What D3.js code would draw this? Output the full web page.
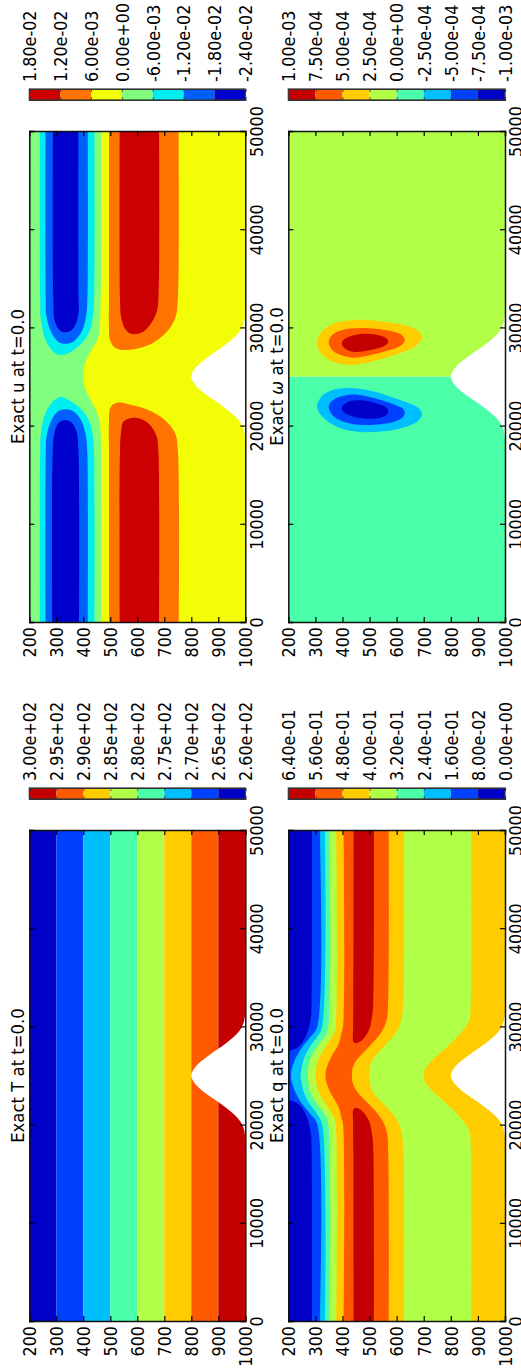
<!DOCTYPE html>
<html>
<head>
<meta charset="utf-8">
<script src="https://cdn.jsdelivr.net/npm/d3@7"></script>
<style>
  body { margin: 0; background: #fff; }
  text { font-family: "DejaVu Sans", sans-serif; fill: #000; }
</style>
</head>
<body>
<svg width="521" height="1369"></svg>
<script>
const pressureTicks = [200, 300, 400, 500, 600, 700, 800, 900, 1000]
const distanceTicks = [0, 10000, 20000, 30000, 40000, 50000]

// colorbar labels, in page order
const uLabels = ["1.80e-02", "1.20e-02", "6.00e-03", "0.00e+00", "-6.00e-03", "-1.20e-02", "-1.80e-02", "-2.40e-02"]
const omegaLabels = ["1.00e-03", "7.50e-04", "5.00e-04", "2.50e-04", "0.00e+00", "-2.50e-04", "-5.00e-04", "-7.50e-04", "-1.00e-03"]
const tLabels = ["3.00e+02", "2.95e+02", "2.90e+02", "2.85e+02", "2.80e+02", "2.75e+02", "2.70e+02", "2.65e+02", "2.60e+02"]
const qLabels = ["6.40e-01", "5.60e-01", "4.80e-01", "4.00e-01", "3.20e-01", "2.40e-01", "1.60e-01", "8.00e-02", "0.00e+00"]

const jet7 = ["#cc0000", "#ff7300", "#f2fd06", "#80ff7f", "#00eef0", "#0060ff", "#0000cc"]
const jet8 = ["#c40000", "#ff5a00", "#ffcc00", "#b2ff47", "#4bffaa", "#00bfff", "#0040ff", "#0000c6"]

// all contour points below are [distance, pressure]
// half profiles run from the right edge in to the middle of the hill
const terrainHalf = [[33000, 1010], [31300, 1000], [30300, 993], [29400, 974], [28200, 925], [27250, 875], [26200, 826], [25500, 806], [25000, 800]]

const tBoundaries = [200, 300, 400, 500, 600, 700, 800, 900, 1000]

const uGreenEdge = [[-5000, 466], [17000, 466], [19210, 464], [20910, 456], [22440, 431], [23800, 406], [25050, 400], [26340, 406], [27700, 431], [29060, 456], [30750, 462], [32790, 464], [35000, 466], [55000, 466]]
const uCyanRight = [[60000, 240], [32790, 240], [30750, 243], [28720, 260], [27530, 289], [27190, 314], [27360, 344], [28380, 394], [29740, 425], [31430, 437], [32790, 440], [60000, 440]]
const uBlueRight = [[60000, 261], [32790, 261], [31090, 264], [29400, 283], [28550, 307], [28340, 332], [28550, 363], [29570, 394], [31090, 410], [32790, 415], [60000, 415]]
const uDarkRight = [[60000, 289], [32790, 289], [30580, 295], [29670, 314], [29500, 332], [29735, 357], [30580, 375], [31770, 383], [33500, 382], [60000, 382]]
const uCyanLeft = [[-10000, 240], [17210, 240], [19250, 243], [21280, 260], [22470, 289], [22900, 314], [22640, 344], [21620, 394], [20260, 425], [18570, 437], [17210, 440], [-10000, 440]]
const uBlueLeft = [[-10000, 261], [17210, 261], [18910, 264], [20600, 283], [21450, 307], [21660, 332], [21450, 363], [20430, 394], [18910, 410], [17210, 415], [-10000, 415]]
const uDarkLeft = [[-10000, 287], [17520, 287], [19210, 293], [20230, 307], [20570, 332], [20300, 357], [19380, 375], [17520, 382], [-10000, 382]]
const uOrangeRight = [[60000, 495], [32790, 495], [30075, 495], [28720, 499], [27940, 517], [27700, 554], [27870, 604], [28550, 665], [29735, 715], [31090, 742], [32790, 750], [60000, 750]]
const uRedRight = [[60000, 536], [32790, 536], [31090, 540], [29900, 554], [29330, 579], [29470, 616], [30250, 647], [31600, 672], [32790, 678], [60000, 678]]
const uOrangeLeft = [[-10000, 495], [17520, 495], [20230, 495], [21930, 502], [22340, 530], [22100, 579], [21590, 641], [20570, 702], [19210, 740], [17520, 750], [-10000, 750]]
const uRedLeft = [[-10000, 536], [17520, 536], [19380, 540], [20400, 548], [20775, 579], [20640, 616], [20060, 647], [18875, 672], [17520, 678], [-10000, 678]]

const omegaSkyRing = [[21930, 306], [22950, 322], [23560, 356], [23830, 418], [23630, 492], [22950, 578], [22200, 652], [21760, 682], [21180, 694], [20540, 682], [20060, 652], [19640, 602], [19400, 541], [19350, 467], [19720, 393], [20740, 332]]
const omegaBlueRing = [[21930, 349], [22680, 369], [23050, 405], [23150, 455], [22710, 529], [22030, 602], [21760, 621], [21320, 630], [20810, 621], [20400, 590], [20180, 553], [20060, 479], [20300, 418], [20910, 369]]
const omegaDarkRing = [[21760, 397], [22340, 415], [22570, 455], [22440, 504], [22060, 547], [21820, 563], [21420, 569], [21000, 559], [20780, 535], [20710, 492], [20910, 442], [21250, 409]]
const omegaYellowRing = [[28380, 306], [29400, 319], [30245, 356], [30690, 418], [30750, 492], [30480, 578], [30050, 652], [29600, 682], [28955, 695], [28380, 682], [27870, 658], [27400, 615], [26950, 565], [26410, 492], [26200, 418], [26610, 356], [27430, 319]]
const omegaOrangeRing = [[28550, 349], [29230, 362], [29735, 399], [29940, 467], [29800, 541], [29450, 602], [29180, 621], [28720, 630], [28280, 621], [27870, 596], [27630, 565], [27190, 504], [26920, 442], [27190, 393], [27700, 362]]
const omegaRedRing = [[28380, 397], [28890, 412], [29260, 449], [29330, 504], [29100, 547], [28880, 563], [28550, 569], [28180, 559], [27900, 535], [27700, 504], [27500, 449], [27770, 412]]

const qLowEdgeHalf = [[55000, 875], [33000, 875], [32000, 873], [30650, 869], [29300, 836], [27940, 787], [26580, 732], [25560, 703], [25000, 700]]
const qYellowEdgeHalf = [[55000, 626], [33000, 625], [30650, 617], [29300, 596], [27940, 553], [26580, 510], [25000, 498]]
const qOrangeEdgeHalf = [[55000, 570], [33000, 569], [30650, 563], [29300, 541], [27940, 498], [26580, 452], [25700, 437], [25000, 435]]
const qRedRight = [[60000, 441], [32700, 440], [29640, 439], [28450, 440], [28280, 449], [28620, 473], [29640, 498], [31160, 510], [32700, 514], [60000, 515]]
const qTopOrangeHalf = [[55000, 402], [29975, 402], [29300, 396], [28280, 387], [26750, 356], [25560, 339], [25000, 337]]
const qTopYellowHalf = [[55000, 375], [29975, 375], [29300, 369], [27940, 338], [26750, 313], [25560, 302], [25000, 301]]
const qTealEdgeHalf = [[55000, 350], [29975, 348], [29100, 338], [27940, 307], [26750, 282], [25560, 273], [25000, 271]]
const qSkyEdgeHalf = [[55000, 332], [29975, 325], [28950, 307], [27940, 280], [26750, 258], [25560, 248], [25000, 245]]
const qBlueEdgeHalf = [[55000, 311], [29975, 307], [28950, 282], [27940, 252], [26750, 227], [25560, 212], [25000, 210]]
const qDarkRight = [[60000, 286], [32700, 286], [30650, 282], [28960, 264], [27940, 239], [27500, 201], [27300, 170], [27100, 100], [60000, 100]]

const whole = half => half.concat(half.slice(0, -1).reverse().map(d => [50000 - d[0], d[1]]))
const flipped = points => points.map(d => [50000 - d[0], d[1]])

const svg = d3.select("svg")

// the reference glyphs are a little taller than DejaVu at this length
const glyphStretch = " scale(1,1.09)"

function drawPanel(layout, titleParts, labels, colors, paintFill) {
  const xScale = d3.scaleLinear().domain([0, 50000]).range([layout.bottom, layout.top])
  const pScale = d3.scaleLinear().domain([200, 1000]).range([layout.left, layout.right])

  const g = svg.append("g")
  const clipId = "clip" + layout.id
  g.append("clipPath").attr("id", clipId).append("rect")
    .attr("x", layout.left).attr("y", layout.top)
    .attr("width", layout.right - layout.left).attr("height", layout.bottom - layout.top)
  const fill = g.append("g").attr("clip-path", "url(#" + clipId + ")")

  const curve = d3.curveCatmullRom.alpha(0.5)
  const lineGen = d3.line().x(d => pScale(d[1])).y(d => xScale(d[0])).curve(curve)
  const ringGen = d3.line().x(d => pScale(d[1])).y(d => xScale(d[0])).curve(d3.curveCatmullRomClosed.alpha(0.5))
  const areaGen = d3.area().y(d => xScale(d[0])).x0(pScale(100)).x1(d => pScale(d[1])).curve(curve)
  const terrainGen = d3.area().y(d => xScale(d[0])).x0(pScale(1100)).x1(d => pScale(d[1])).curve(curve)

  const paint = {
    // whole panel in one colour between two distances
    slab: (x0, x1, color) => fill.append("rect")
      .attr("x", layout.left).attr("width", layout.right - layout.left)
      .attr("y", xScale(x1)).attr("height", xScale(x0) - xScale(x1)).attr("fill", color),
    // band between two pressures
    band: (p0, p1, color) => fill.append("rect")
      .attr("x", pScale(p0)).attr("width", pScale(p1) - pScale(p0))
      .attr("y", layout.top).attr("height", layout.bottom - layout.top).attr("fill", color),
    area: (points, color) => fill.append("path").attr("d", areaGen(points)).attr("fill", color),
    shape: (points, color) => fill.append("path").attr("d", lineGen(points) + "Z").attr("fill", color),
    ring: (points, color) => fill.append("path").attr("d", ringGen(points)).attr("fill", color)
  }
  paintFill(paint)
  fill.append("path").attr("d", terrainGen(whole(terrainHalf))).attr("fill", "#fff")

  // ticks on all four sides point inwards, only two sides have labels
  const tickSize = -5
  const bottomAxis = g.append("g").attr("transform", "translate(0," + layout.bottom + ")")
    .call(d3.axisBottom(pScale).tickValues(pressureTicks).tickSize(tickSize).tickFormat(d3.format("d")))
  const topAxis = g.append("g").attr("transform", "translate(0," + layout.top + ")")
    .call(d3.axisTop(pScale).tickValues(pressureTicks).tickSize(tickSize).tickFormat(""))
  const leftAxis = g.append("g").attr("transform", "translate(" + layout.left + ",0)")
    .call(d3.axisLeft(xScale).tickValues(distanceTicks).tickSize(tickSize).tickFormat(""))
  const rightAxis = g.append("g").attr("transform", "translate(" + layout.right + ",0)")
    .call(d3.axisRight(xScale).tickValues(distanceTicks).tickSize(tickSize).tickFormat(d3.format("d")))
  ;[bottomAxis, topAxis, leftAxis, rightAxis].forEach(axis => {
    axis.selectAll(".domain").attr("stroke", "#111").attr("stroke-width", 1.5)
    axis.selectAll(".tick line").attr("stroke", "#000").attr("stroke-width", 1.2)
    axis.attr("font-family", null).attr("font-size", null)
  })
  bottomAxis.selectAll("text")
    .attr("x", 0).attr("y", 0).attr("dy", "0.36em")
    .attr("transform", "translate(0,5) rotate(-90)" + glyphStretch)
    .attr("text-anchor", "end").style("font-size", "16px")
  rightAxis.selectAll("text")
    .attr("x", 0).attr("y", 0).attr("dy", "0.36em")
    .attr("transform", "translate(11,0) rotate(-90)" + glyphStretch)
    .attr("text-anchor", "middle").style("font-size", "16px")

  const title = g.append("text")
    .attr("transform", "translate(" + (layout.left - 12) + "," + ((layout.top + layout.bottom) / 2) + ") rotate(-90)" + glyphStretch)
    .attr("text-anchor", "middle").attr("dy", "0.36em").style("font-size", "16.5px")
  titleParts.forEach(part => {
    title.append("tspan").style("font-style", part.italic ? "italic" : "normal").text(part.text)
  })

  // colorbar above the panel
  const barScale = d3.scalePoint().domain(labels).range([layout.left, layout.right])
  const barBottom = layout.top - 31
  const barTop = barBottom - 11
  const bar = g.append("g")
  bar.selectAll("rect").data(colors).enter().append("rect")
    .attr("x", (d, i) => barScale(labels[i]))
    .attr("width", (d, i) => barScale(labels[i + 1]) - barScale(labels[i]))
    .attr("y", barTop).attr("height", barBottom - barTop)
    .attr("fill", d => d)
  const barAxis = g.append("g").attr("transform", "translate(0," + barTop + ")")
    .call(d3.axisTop(barScale).tickSize(-3))
  const barLower = g.append("g").attr("transform", "translate(0," + barBottom + ")")
    .call(d3.axisBottom(barScale).tickSize(-3).tickFormat(""))
  ;[barAxis, barLower].forEach(axis => {
    axis.selectAll(".domain").attr("stroke", "#333").attr("stroke-width", 1.2)
    axis.selectAll(".tick line").attr("stroke", "#333").attr("stroke-width", 0.8)
    axis.attr("font-family", null).attr("font-size", null)
  })
  g.append("rect").attr("x", layout.left).attr("y", barTop)
    .attr("width", layout.right - layout.left).attr("height", barBottom - barTop)
    .attr("fill", "none").attr("stroke", "#333").attr("stroke-width", 1.2)
  barAxis.selectAll("text")
    .attr("x", 0).attr("y", 0).attr("dy", "0.36em")
    .attr("transform", "translate(0,-7) rotate(-90)" + glyphStretch)
    .attr("text-anchor", "start").style("font-size", "16px")
}

const rowTop = { top: 131, bottom: 622 }
const rowBottom = { top: 830, bottom: 1321 }
const colLeft = { left: 29.3, right: 245.3 }
const colRight = { left: 288.3, right: 505 }

drawPanel({ id: "u", ...rowTop, ...colLeft }, [{ text: "Exact u at t=0.0" }], uLabels, jet7, paint => {
  const [red, orange, yellow, green, cyan, blue, dark] = jet7
  paint.band(200, 1000, yellow)
  paint.area(uGreenEdge, green)
  paint.shape(uCyanRight, cyan)
  paint.shape(uBlueRight, blue)
  paint.shape(uDarkRight, dark)
  paint.shape(uCyanLeft, cyan)
  paint.shape(uBlueLeft, blue)
  paint.shape(uDarkLeft, dark)
  paint.shape(uOrangeRight, orange)
  paint.shape(uRedRight, red)
  paint.shape(uOrangeLeft, orange)
  paint.shape(uRedLeft, red)
})

drawPanel({ id: "omega", ...rowTop, ...colRight }, [{ text: "Exact " }, { text: "\u03c9", italic: true }, { text: " at t=0.0" }], omegaLabels, jet8, paint => {
  const [red, orange, yellow, lime, teal, sky, blue, dark] = jet8
  paint.slab(0, 25000, teal)
  paint.slab(25000, 50000, lime)
  paint.ring(omegaSkyRing, sky)
  paint.ring(omegaBlueRing, blue)
  paint.ring(omegaDarkRing, dark)
  paint.ring(omegaYellowRing, yellow)
  paint.ring(omegaOrangeRing, orange)
  paint.ring(omegaRedRing, red)
})

drawPanel({ id: "t", ...rowBottom, ...colLeft }, [{ text: "Exact T at t=0.0" }], tLabels, jet8, paint => {
  const ascending = jet8.slice().reverse()
  ascending.forEach((color, i) => paint.band(tBoundaries[i], tBoundaries[i + 1], color))
})

drawPanel({ id: "q", ...rowBottom, ...colRight }, [{ text: "Exact q at t=0.0" }], qLabels, jet8, paint => {
  const [red, orange, yellow, lime, teal, sky, blue, dark] = jet8
  paint.band(200, 1000, yellow)
  paint.area(whole(qLowEdgeHalf), lime)
  paint.area(whole(qYellowEdgeHalf), yellow)
  paint.area(whole(qOrangeEdgeHalf), orange)
  paint.shape(qRedRight, red)
  paint.shape(flipped(qRedRight), red)
  paint.area(whole(qTopOrangeHalf), yellow)
  paint.area(whole(qTopYellowHalf), lime)
  paint.area(whole(qTealEdgeHalf), teal)
  paint.area(whole(qSkyEdgeHalf), sky)
  paint.area(whole(qBlueEdgeHalf), blue)
  paint.shape(qDarkRight, dark)
  paint.shape(flipped(qDarkRight), dark)
})
</script>
</body>
</html>
